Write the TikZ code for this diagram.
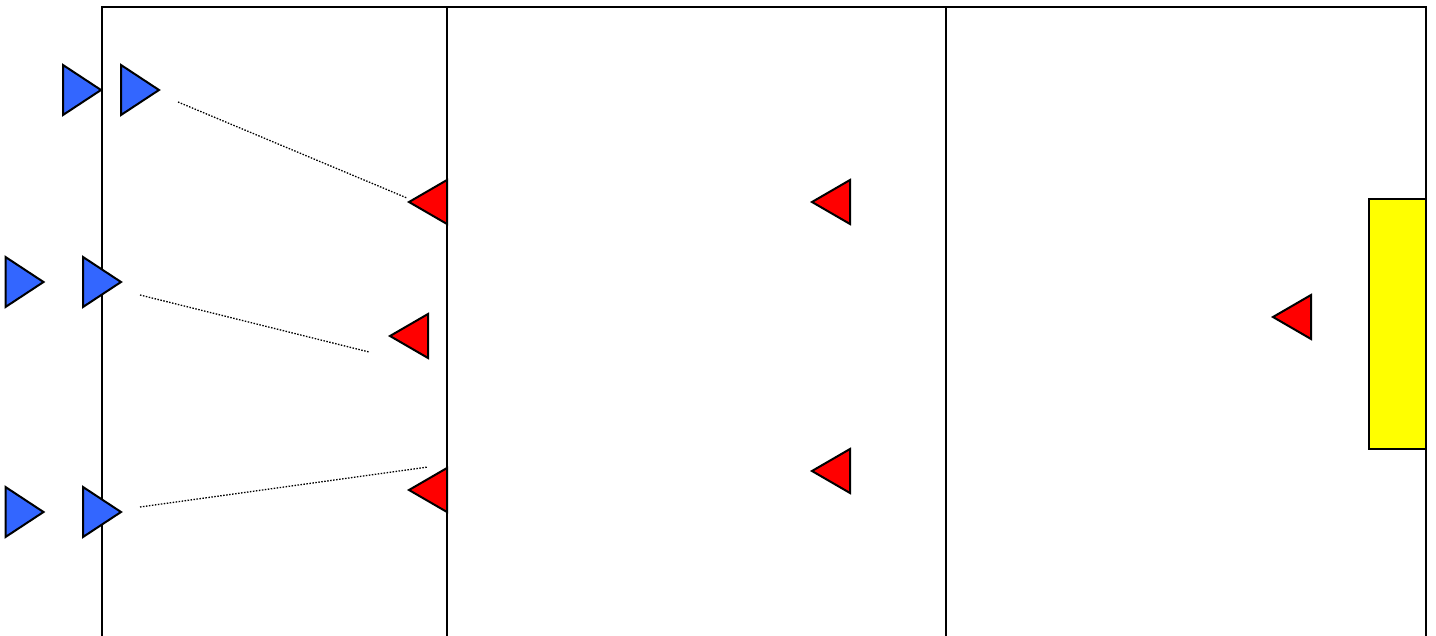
\documentclass[tikz,border=0pt]{standalone}
\usetikzlibrary{calc}
\definecolor{pblue}{HTML}{3366FF}
\definecolor{pred}{HTML}{FF0000}
\definecolor{pyellow}{HTML}{FFFF00}
\tikzset{
  fieldline/.style={line width=2pt, black},
  trioutline/.style={line width=2pt, line join=miter, black},
  pics/bluetri/.style={code={\filldraw[trioutline, fill=pblue] (-19,-25) -- (19,0) -- (-19,25) -- cycle;}},
  pics/redtri/.style={code={\filldraw[trioutline, fill=pred] (19,-22) -- (-19,0) -- (19,22) -- cycle;}},
  passline/.style={dash pattern=on 1.5pt off 1.5pt, line width=1.3pt, black},
}
\begin{document}
\begin{tikzpicture}[x=1pt,y=-1pt]
\useasboundingbox (0,0) rectangle (1436,636);
% field
\draw[fieldline] (102,640) -- (102,7) -- (1426,7) -- (1426,640);
\draw[fieldline] (447,7) -- (447,640);
\draw[fieldline] (946,7) -- (946,640);
% goal
\filldraw[line width=1.8pt, fill=pyellow] (1369,199) rectangle (1426,449);
% pass lines
\coordinate (p1a) at (178,102); \coordinate (p1b) at (407,198);
\coordinate (p2a) at (140,295); \coordinate (p2b) at (369,352);
\coordinate (p3a) at (140,507); \coordinate (p3b) at (428,467);
\draw[passline] (p1a) -- (p1b);
\draw[passline] (p2a) -- (p2b);
\draw[passline] (p3a) -- (p3b);
% blue players
\pic at (82,90) {bluetri};
\pic at (140,90) {bluetri};
\pic at (24.5,282) {bluetri};
\pic at (102,282) {bluetri};
\pic at (24.5,512) {bluetri};
\pic at (102,512) {bluetri};
% red players
\pic at (428,202) {redtri};
\pic at (409,336) {redtri};
\pic at (428,490) {redtri};
\pic at (831,202) {redtri};
\pic at (831,471) {redtri};
\pic at (1292,317) {redtri};
\end{tikzpicture}
\end{document}
